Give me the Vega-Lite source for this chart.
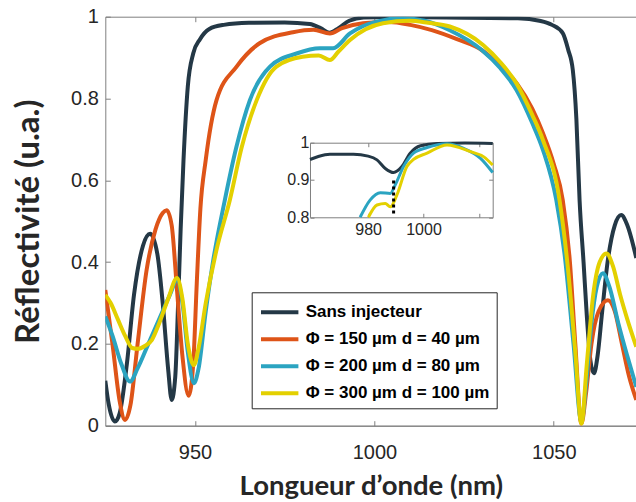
{
  "$schema": "https://vega.github.io/schema/vega-lite/v6.json",
  "width": 531,
  "height": 409,
  "autosize": {"type": "none"},
  "padding": {"left": 105.3, "top": 16.7, "right": 0, "bottom": 76},
  "background": "white",
  "config": {
    "view": {"stroke": null},
    "font": "Liberation Sans",
    "axis": {
      "grid": false,
      "domainColor": "#808080",
      "tickColor": "#808080",
      "tickSize": -5,
      "labelFont": "Liberation Sans",
      "labelColor": "#262626",
      "titleColor": "#262626",
      "labelOverlap": false
    }
  },
  "datasets": {
    "main": [
      {"serie": "Sans injecteur", "nm": 925, "R": 0.11},
      {"serie": "Sans injecteur", "nm": 926, "R": 0.05},
      {"serie": "Sans injecteur", "nm": 927.7, "R": 0.01},
      {"serie": "Sans injecteur", "nm": 929, "R": 0.03},
      {"serie": "Sans injecteur", "nm": 931, "R": 0.15},
      {"serie": "Sans injecteur", "nm": 933, "R": 0.32},
      {"serie": "Sans injecteur", "nm": 935.5, "R": 0.44},
      {"serie": "Sans injecteur", "nm": 937.5, "R": 0.469},
      {"serie": "Sans injecteur", "nm": 939.5, "R": 0.42},
      {"serie": "Sans injecteur", "nm": 941, "R": 0.3},
      {"serie": "Sans injecteur", "nm": 942.5, "R": 0.14},
      {"serie": "Sans injecteur", "nm": 943.5, "R": 0.063},
      {"serie": "Sans injecteur", "nm": 944.5, "R": 0.12},
      {"serie": "Sans injecteur", "nm": 945.3, "R": 0.3},
      {"serie": "Sans injecteur", "nm": 946, "R": 0.48},
      {"serie": "Sans injecteur", "nm": 946.8, "R": 0.65},
      {"serie": "Sans injecteur", "nm": 948, "R": 0.83},
      {"serie": "Sans injecteur", "nm": 949.5, "R": 0.91},
      {"serie": "Sans injecteur", "nm": 951.4, "R": 0.945},
      {"serie": "Sans injecteur", "nm": 954, "R": 0.97},
      {"serie": "Sans injecteur", "nm": 958, "R": 0.98},
      {"serie": "Sans injecteur", "nm": 965, "R": 0.985},
      {"serie": "Sans injecteur", "nm": 975, "R": 0.986},
      {"serie": "Sans injecteur", "nm": 982, "R": 0.982},
      {"serie": "Sans injecteur", "nm": 985, "R": 0.972},
      {"serie": "Sans injecteur", "nm": 987.5, "R": 0.961},
      {"serie": "Sans injecteur", "nm": 990, "R": 0.972},
      {"serie": "Sans injecteur", "nm": 993, "R": 0.99},
      {"serie": "Sans injecteur", "nm": 997, "R": 0.998},
      {"serie": "Sans injecteur", "nm": 1005, "R": 0.999},
      {"serie": "Sans injecteur", "nm": 1020, "R": 0.998},
      {"serie": "Sans injecteur", "nm": 1040, "R": 0.996},
      {"serie": "Sans injecteur", "nm": 1046, "R": 0.99},
      {"serie": "Sans injecteur", "nm": 1049.5, "R": 0.98},
      {"serie": "Sans injecteur", "nm": 1052.5, "R": 0.96},
      {"serie": "Sans injecteur", "nm": 1054, "R": 0.92},
      {"serie": "Sans injecteur", "nm": 1055.3, "R": 0.87},
      {"serie": "Sans injecteur", "nm": 1056.3, "R": 0.75},
      {"serie": "Sans injecteur", "nm": 1057.2, "R": 0.55},
      {"serie": "Sans injecteur", "nm": 1058.3, "R": 0.4},
      {"serie": "Sans injecteur", "nm": 1059.2, "R": 0.27},
      {"serie": "Sans injecteur", "nm": 1060.2, "R": 0.16},
      {"serie": "Sans injecteur", "nm": 1061.2, "R": 0.128},
      {"serie": "Sans injecteur", "nm": 1062.2, "R": 0.17},
      {"serie": "Sans injecteur", "nm": 1063.5, "R": 0.28},
      {"serie": "Sans injecteur", "nm": 1065, "R": 0.4},
      {"serie": "Sans injecteur", "nm": 1067, "R": 0.49},
      {"serie": "Sans injecteur", "nm": 1068.8, "R": 0.515},
      {"serie": "Sans injecteur", "nm": 1070.5, "R": 0.49},
      {"serie": "Sans injecteur", "nm": 1073, "R": 0.41},

      {"serie": "Φ = 150 µm d = 40 µm", "nm": 925, "R": 0.332},
      {"serie": "Φ = 150 µm d = 40 µm", "nm": 927, "R": 0.2},
      {"serie": "Φ = 150 µm d = 40 µm", "nm": 929, "R": 0.06},
      {"serie": "Φ = 150 µm d = 40 µm", "nm": 930.5, "R": 0.014},
      {"serie": "Φ = 150 µm d = 40 µm", "nm": 932, "R": 0.05},
      {"serie": "Φ = 150 µm d = 40 µm", "nm": 934, "R": 0.2},
      {"serie": "Φ = 150 µm d = 40 µm", "nm": 936.5, "R": 0.38},
      {"serie": "Φ = 150 µm d = 40 µm", "nm": 939, "R": 0.48},
      {"serie": "Φ = 150 µm d = 40 µm", "nm": 941, "R": 0.52},
      {"serie": "Φ = 150 µm d = 40 µm", "nm": 942.1, "R": 0.527},
      {"serie": "Φ = 150 µm d = 40 µm", "nm": 943.5, "R": 0.49},
      {"serie": "Φ = 150 µm d = 40 µm", "nm": 945, "R": 0.33},
      {"serie": "Φ = 150 µm d = 40 µm", "nm": 946.5, "R": 0.17},
      {"serie": "Φ = 150 µm d = 40 µm", "nm": 948.2, "R": 0.073},
      {"serie": "Φ = 150 µm d = 40 µm", "nm": 949.5, "R": 0.15},
      {"serie": "Φ = 150 µm d = 40 µm", "nm": 950.5, "R": 0.35},
      {"serie": "Φ = 150 µm d = 40 µm", "nm": 951.5, "R": 0.53},
      {"serie": "Φ = 150 µm d = 40 µm", "nm": 953, "R": 0.65},
      {"serie": "Φ = 150 µm d = 40 µm", "nm": 956, "R": 0.796},
      {"serie": "Φ = 150 µm d = 40 µm", "nm": 961.6, "R": 0.878},
      {"serie": "Φ = 150 µm d = 40 µm", "nm": 968, "R": 0.935},
      {"serie": "Φ = 150 µm d = 40 µm", "nm": 977.3, "R": 0.962},
      {"serie": "Φ = 150 µm d = 40 µm", "nm": 983, "R": 0.968},
      {"serie": "Φ = 150 µm d = 40 µm", "nm": 987.6, "R": 0.959},
      {"serie": "Φ = 150 µm d = 40 µm", "nm": 991, "R": 0.972},
      {"serie": "Φ = 150 µm d = 40 µm", "nm": 996.8, "R": 0.984},
      {"serie": "Φ = 150 µm d = 40 µm", "nm": 1004, "R": 0.987},
      {"serie": "Φ = 150 µm d = 40 µm", "nm": 1010, "R": 0.98},
      {"serie": "Φ = 150 µm d = 40 µm", "nm": 1016, "R": 0.967},
      {"serie": "Φ = 150 µm d = 40 µm", "nm": 1023, "R": 0.945},
      {"serie": "Φ = 150 µm d = 40 µm", "nm": 1030, "R": 0.918},
      {"serie": "Φ = 150 µm d = 40 µm", "nm": 1035, "R": 0.88},
      {"serie": "Φ = 150 µm d = 40 µm", "nm": 1039.7, "R": 0.837},
      {"serie": "Φ = 150 µm d = 40 µm", "nm": 1044, "R": 0.775},
      {"serie": "Φ = 150 µm d = 40 µm", "nm": 1047, "R": 0.715},
      {"serie": "Φ = 150 µm d = 40 µm", "nm": 1050, "R": 0.64},
      {"serie": "Φ = 150 µm d = 40 µm", "nm": 1052.5, "R": 0.552},
      {"serie": "Φ = 150 µm d = 40 µm", "nm": 1054.5, "R": 0.4},
      {"serie": "Φ = 150 µm d = 40 µm", "nm": 1056, "R": 0.2},
      {"serie": "Φ = 150 µm d = 40 µm", "nm": 1057.7, "R": 0.005},
      {"serie": "Φ = 150 µm d = 40 µm", "nm": 1059, "R": 0.08},
      {"serie": "Φ = 150 µm d = 40 µm", "nm": 1060.5, "R": 0.2},
      {"serie": "Φ = 150 µm d = 40 µm", "nm": 1062.5, "R": 0.28},
      {"serie": "Φ = 150 µm d = 40 µm", "nm": 1065.1, "R": 0.307},
      {"serie": "Φ = 150 µm d = 40 µm", "nm": 1067, "R": 0.28},
      {"serie": "Φ = 150 µm d = 40 µm", "nm": 1069, "R": 0.2},
      {"serie": "Φ = 150 µm d = 40 µm", "nm": 1071, "R": 0.12},
      {"serie": "Φ = 150 µm d = 40 µm", "nm": 1073, "R": 0.063},

      {"serie": "Φ = 200 µm d = 80 µm", "nm": 925, "R": 0.267},
      {"serie": "Φ = 200 µm d = 80 µm", "nm": 927, "R": 0.22},
      {"serie": "Φ = 200 µm d = 80 µm", "nm": 929.5, "R": 0.15},
      {"serie": "Φ = 200 µm d = 80 µm", "nm": 931.9, "R": 0.108},
      {"serie": "Φ = 200 µm d = 80 µm", "nm": 934, "R": 0.14},
      {"serie": "Φ = 200 µm d = 80 µm", "nm": 937, "R": 0.2},
      {"serie": "Φ = 200 µm d = 80 µm", "nm": 940, "R": 0.26},
      {"serie": "Φ = 200 µm d = 80 µm", "nm": 943, "R": 0.32},
      {"serie": "Φ = 200 µm d = 80 µm", "nm": 945, "R": 0.356},
      {"serie": "Φ = 200 µm d = 80 µm", "nm": 946.5, "R": 0.3},
      {"serie": "Φ = 200 µm d = 80 µm", "nm": 948, "R": 0.18},
      {"serie": "Φ = 200 µm d = 80 µm", "nm": 949.7, "R": 0.104},
      {"serie": "Φ = 200 µm d = 80 µm", "nm": 951, "R": 0.14},
      {"serie": "Φ = 200 µm d = 80 µm", "nm": 953, "R": 0.28},
      {"serie": "Φ = 200 µm d = 80 µm", "nm": 955, "R": 0.4},
      {"serie": "Φ = 200 µm d = 80 µm", "nm": 958.3, "R": 0.551},
      {"serie": "Φ = 200 µm d = 80 µm", "nm": 961.5, "R": 0.68},
      {"serie": "Φ = 200 µm d = 80 µm", "nm": 965.3, "R": 0.796},
      {"serie": "Φ = 200 µm d = 80 µm", "nm": 970.9, "R": 0.878},
      {"serie": "Φ = 200 µm d = 80 µm", "nm": 978.3, "R": 0.91},
      {"serie": "Φ = 200 µm d = 80 µm", "nm": 984.8, "R": 0.923},
      {"serie": "Φ = 200 µm d = 80 µm", "nm": 988.5, "R": 0.923},
      {"serie": "Φ = 200 µm d = 80 µm", "nm": 993.2, "R": 0.959},
      {"serie": "Φ = 200 µm d = 80 µm", "nm": 1000.6, "R": 0.988},
      {"serie": "Φ = 200 µm d = 80 µm", "nm": 1008, "R": 0.996},
      {"serie": "Φ = 200 µm d = 80 µm", "nm": 1014, "R": 0.99},
      {"serie": "Φ = 200 µm d = 80 µm", "nm": 1021, "R": 0.967},
      {"serie": "Φ = 200 µm d = 80 µm", "nm": 1030, "R": 0.918},
      {"serie": "Φ = 200 µm d = 80 µm", "nm": 1035, "R": 0.875},
      {"serie": "Φ = 200 µm d = 80 µm", "nm": 1039.6, "R": 0.821},
      {"serie": "Φ = 200 µm d = 80 µm", "nm": 1044, "R": 0.74},
      {"serie": "Φ = 200 µm d = 80 µm", "nm": 1047, "R": 0.674},
      {"serie": "Φ = 200 µm d = 80 µm", "nm": 1050.7, "R": 0.552},
      {"serie": "Φ = 200 µm d = 80 µm", "nm": 1053, "R": 0.42},
      {"serie": "Φ = 200 µm d = 80 µm", "nm": 1055.5, "R": 0.2},
      {"serie": "Φ = 200 µm d = 80 µm", "nm": 1057.7, "R": 0.01},
      {"serie": "Φ = 200 µm d = 80 µm", "nm": 1059, "R": 0.1},
      {"serie": "Φ = 200 µm d = 80 µm", "nm": 1060.5, "R": 0.25},
      {"serie": "Φ = 200 µm d = 80 µm", "nm": 1062, "R": 0.34},
      {"serie": "Φ = 200 µm d = 80 µm", "nm": 1063.7, "R": 0.373},
      {"serie": "Φ = 200 µm d = 80 µm", "nm": 1065.5, "R": 0.34},
      {"serie": "Φ = 200 µm d = 80 µm", "nm": 1068, "R": 0.25},
      {"serie": "Φ = 200 µm d = 80 µm", "nm": 1070.5, "R": 0.17},
      {"serie": "Φ = 200 µm d = 80 µm", "nm": 1073, "R": 0.095},

      {"serie": "Φ = 300 µm d = 100 µm", "nm": 925, "R": 0.32},
      {"serie": "Φ = 300 µm d = 100 µm", "nm": 926.5, "R": 0.3},
      {"serie": "Φ = 300 µm d = 100 µm", "nm": 928.5, "R": 0.26},
      {"serie": "Φ = 300 µm d = 100 µm", "nm": 930.5, "R": 0.22},
      {"serie": "Φ = 300 µm d = 100 µm", "nm": 932.5, "R": 0.19},
      {"serie": "Φ = 300 µm d = 100 µm", "nm": 934, "R": 0.188},
      {"serie": "Φ = 300 µm d = 100 µm", "nm": 936, "R": 0.195},
      {"serie": "Φ = 300 µm d = 100 µm", "nm": 938, "R": 0.21},
      {"serie": "Φ = 300 µm d = 100 µm", "nm": 940, "R": 0.25},
      {"serie": "Φ = 300 µm d = 100 µm", "nm": 942.5, "R": 0.31},
      {"serie": "Φ = 300 µm d = 100 µm", "nm": 945, "R": 0.361},
      {"serie": "Φ = 300 µm d = 100 µm", "nm": 946.5, "R": 0.31},
      {"serie": "Φ = 300 µm d = 100 µm", "nm": 948, "R": 0.2},
      {"serie": "Φ = 300 µm d = 100 µm", "nm": 949.7, "R": 0.148},
      {"serie": "Φ = 300 µm d = 100 µm", "nm": 951, "R": 0.19},
      {"serie": "Φ = 300 µm d = 100 µm", "nm": 953, "R": 0.3},
      {"serie": "Φ = 300 µm d = 100 µm", "nm": 956, "R": 0.43},
      {"serie": "Φ = 300 µm d = 100 µm", "nm": 959.7, "R": 0.551},
      {"serie": "Φ = 300 µm d = 100 µm", "nm": 963, "R": 0.68},
      {"serie": "Φ = 300 µm d = 100 µm", "nm": 967.2, "R": 0.796},
      {"serie": "Φ = 300 µm d = 100 µm", "nm": 972.7, "R": 0.878},
      {"serie": "Φ = 300 µm d = 100 µm", "nm": 980, "R": 0.902},
      {"serie": "Φ = 300 µm d = 100 µm", "nm": 984.5, "R": 0.905},
      {"serie": "Φ = 300 µm d = 100 µm", "nm": 987.6, "R": 0.894},
      {"serie": "Φ = 300 µm d = 100 µm", "nm": 990, "R": 0.915},
      {"serie": "Φ = 300 µm d = 100 µm", "nm": 993.2, "R": 0.943},
      {"serie": "Φ = 300 µm d = 100 µm", "nm": 1002.4, "R": 0.984},
      {"serie": "Φ = 300 µm d = 100 µm", "nm": 1009.9, "R": 0.99},
      {"serie": "Φ = 300 µm d = 100 µm", "nm": 1015, "R": 0.985},
      {"serie": "Φ = 300 µm d = 100 µm", "nm": 1021, "R": 0.976},
      {"serie": "Φ = 300 µm d = 100 µm", "nm": 1030.3, "R": 0.931},
      {"serie": "Φ = 300 µm d = 100 µm", "nm": 1035, "R": 0.89},
      {"serie": "Φ = 300 µm d = 100 µm", "nm": 1039.6, "R": 0.837},
      {"serie": "Φ = 300 µm d = 100 µm", "nm": 1044, "R": 0.76},
      {"serie": "Φ = 300 µm d = 100 µm", "nm": 1047, "R": 0.698},
      {"serie": "Φ = 300 µm d = 100 µm", "nm": 1051.6, "R": 0.552},
      {"serie": "Φ = 300 µm d = 100 µm", "nm": 1054, "R": 0.38},
      {"serie": "Φ = 300 µm d = 100 µm", "nm": 1056, "R": 0.18},
      {"serie": "Φ = 300 µm d = 100 µm", "nm": 1057.7, "R": 0.005},
      {"serie": "Φ = 300 µm d = 100 µm", "nm": 1059.2, "R": 0.15},
      {"serie": "Φ = 300 µm d = 100 µm", "nm": 1061, "R": 0.32},
      {"serie": "Φ = 300 µm d = 100 µm", "nm": 1062.8, "R": 0.4},
      {"serie": "Φ = 300 µm d = 100 µm", "nm": 1064.7, "R": 0.421},
      {"serie": "Φ = 300 µm d = 100 µm", "nm": 1066.5, "R": 0.39},
      {"serie": "Φ = 300 µm d = 100 µm", "nm": 1068.5, "R": 0.32},
      {"serie": "Φ = 300 µm d = 100 µm", "nm": 1070.5, "R": 0.26},
      {"serie": "Φ = 300 µm d = 100 µm", "nm": 1073, "R": 0.193}
    ],
    "inset": [
      {"serie": "Sans injecteur", "nm": 959, "R": 0.955},
      {"serie": "Sans injecteur", "nm": 962, "R": 0.963},
      {"serie": "Sans injecteur", "nm": 966.2, "R": 0.969},
      {"serie": "Sans injecteur", "nm": 974.7, "R": 0.969},
      {"serie": "Sans injecteur", "nm": 980, "R": 0.964},
      {"serie": "Sans injecteur", "nm": 983.2, "R": 0.954},
      {"serie": "Sans injecteur", "nm": 986.2, "R": 0.931},
      {"serie": "Sans injecteur", "nm": 989.2, "R": 0.92},
      {"serie": "Sans injecteur", "nm": 992.2, "R": 0.936},
      {"serie": "Sans injecteur", "nm": 995.2, "R": 0.972},
      {"serie": "Sans injecteur", "nm": 998.9, "R": 0.992},
      {"serie": "Sans injecteur", "nm": 1004.9, "R": 0.998},
      {"serie": "Sans injecteur", "nm": 1015, "R": 0.999},
      {"serie": "Sans injecteur", "nm": 1025, "R": 0.998},
      {"serie": "Φ = 200 µm d = 80 µm", "nm": 977.1, "R": 0.8},
      {"serie": "Φ = 200 µm d = 80 µm", "nm": 980.7, "R": 0.846},
      {"serie": "Φ = 200 µm d = 80 µm", "nm": 984.4, "R": 0.866},
      {"serie": "Φ = 200 µm d = 80 µm", "nm": 988, "R": 0.864},
      {"serie": "Φ = 200 µm d = 80 µm", "nm": 989.8, "R": 0.887},
      {"serie": "Φ = 200 µm d = 80 µm", "nm": 992.8, "R": 0.936},
      {"serie": "Φ = 200 µm d = 80 µm", "nm": 996.4, "R": 0.972},
      {"serie": "Φ = 200 µm d = 80 µm", "nm": 1001.3, "R": 0.987},
      {"serie": "Φ = 200 µm d = 80 µm", "nm": 1008.5, "R": 0.997},
      {"serie": "Φ = 200 µm d = 80 µm", "nm": 1014.5, "R": 0.985},
      {"serie": "Φ = 200 µm d = 80 µm", "nm": 1020.6, "R": 0.958},
      {"serie": "Φ = 200 µm d = 80 µm", "nm": 1025, "R": 0.92},
      {"serie": "Φ = 300 µm d = 100 µm", "nm": 980.1, "R": 0.8},
      {"serie": "Φ = 300 µm d = 100 µm", "nm": 983.2, "R": 0.833},
      {"serie": "Φ = 300 µm d = 100 µm", "nm": 986.2, "R": 0.837},
      {"serie": "Φ = 300 µm d = 100 µm", "nm": 988, "R": 0.828},
      {"serie": "Φ = 300 µm d = 100 µm", "nm": 990.4, "R": 0.86},
      {"serie": "Φ = 300 µm d = 100 µm", "nm": 994, "R": 0.936},
      {"serie": "Φ = 300 µm d = 100 µm", "nm": 996.4, "R": 0.955},
      {"serie": "Φ = 300 µm d = 100 µm", "nm": 1001.3, "R": 0.972},
      {"serie": "Φ = 300 µm d = 100 µm", "nm": 1008.5, "R": 0.994},
      {"serie": "Φ = 300 µm d = 100 µm", "nm": 1017, "R": 0.976},
      {"serie": "Φ = 300 µm d = 100 µm", "nm": 1021.8, "R": 0.962},
      {"serie": "Φ = 300 µm d = 100 µm", "nm": 1025, "R": 0.94}
    ],
    "marker": [{"nm": 989.2, "lo": 0.81, "hi": 0.905}]
  },
  "layer": [
    {
      "layer": [
        {
          "data": {"name": "main"},
          "mark": {"type": "line", "strokeWidth": 4, "interpolate": "monotone", "clip": true},
          "encoding": {
            "x": {
              "field": "nm", "type": "quantitative",
              "scale": {"domain": [925, 1073], "nice": false, "zero": false},
              "axis": {
                "orient": "bottom", "values": [950, 1000, 1050],
                "labelExpr": "datum.value + ''", "ticks": false,
                "labelFontSize": 20, "labelPadding": 17,
                "title": "Longueur d’onde (nm)", "titleFont": "Lato", "titleFontSize": 27.5,
                "titleFontWeight": "bold", "titlePadding": 10
              }
            },
            "y": {
              "field": "R", "type": "quantitative",
              "scale": {"domain": [0, 1], "nice": false},
              "axis": {
                "orient": "left", "values": [0, 0.2, 0.4, 0.6, 0.8, 1],
                "labelExpr": "datum.value + ''",
                "labelFontSize": 20, "labelPadding": 12,
                "title": "Réflectivité (u.a.)", "titleFont": "Lato", "titleFontSize": 33,
                "titleFontWeight": "bold", "titlePadding": 25
              }
            },
            "color": {
              "field": "serie", "type": "nominal",
              "scale": {
                "domain": ["Sans injecteur", "Φ = 150 µm d = 40 µm", "Φ = 200 µm d = 80 µm", "Φ = 300 µm d = 100 µm"],
                "range": ["#243846", "#de5418", "#2ba4c1", "#e3d000"]
              },
              "legend": {
                "orient": "none", "legendX": 146.4, "legendY": 275.6,
                "title": null, "padding": 7,
                "strokeColor": "#262626", "fillColor": "white",
                "symbolType": "M-1.7,0H1.7", "symbolStrokeWidth": 4, "symbolSize": 484,
                "symbolOffset": 8,
                "labelFont": "Liberation Sans", "labelFontWeight": "bold", "labelFontSize": 17,
                "labelColor": "black", "labelOffset": 13, "labelLimit": 400, "rowPadding": 6
              }
            }
          }
        },
        {
          "data": {"name": "main"},
          "mark": {"type": "point", "opacity": 0},
          "encoding": {
            "x": {"field": "nm", "type": "quantitative", "axis": {"orient": "top", "values": [950, 1000, 1050], "labels": false, "title": null}},
            "y": {"field": "R", "type": "quantitative", "axis": null}
          }
        },
        {
          "data": {"name": "main"},
          "mark": {"type": "point", "opacity": 0},
          "encoding": {
            "x": {"field": "nm", "type": "quantitative", "axis": {"orient": "bottom", "values": [950, 1000, 1050], "labels": false, "title": null}},
            "y": {"field": "R", "type": "quantitative", "axis": null}
          }
        }
      ],
      "resolve": {"axis": {"x": "independent", "y": "independent"}}
    },
    {
      "layer": [
        {
          "data": {"name": "inset"},
          "mark": {"type": "line", "strokeWidth": 3, "interpolate": "monotone"},
          "encoding": {
            "x": {
              "field": "nm", "type": "quantitative",
              "scale": {"domain": [959, 1025], "range": [204.7, 387.4], "nice": false, "zero": false},
              "axis": {
                "orient": "bottom", "offset": -208.4, "values": [980, 1000, 1020],
                "labelExpr": "datum.value == 1020 ? '' : datum.value + ''",
                "labelFontSize": 16, "labelPadding": 8, "tickSize": -4, "title": null
              }
            },
            "y": {
              "field": "R", "type": "quantitative",
              "scale": {"domain": [0.8, 1], "range": [200.6, 126], "nice": false, "zero": false},
              "axis": {
                "orient": "left", "offset": -204.7, "values": [0.8, 0.9, 1],
                "labelExpr": "datum.value + ''",
                "labelFontSize": 16, "labelPadding": 5, "tickSize": -4, "title": null
              }
            },
            "color": {
              "field": "serie", "type": "nominal",
              "scale": {
                "domain": ["Sans injecteur", "Φ = 150 µm d = 40 µm", "Φ = 200 µm d = 80 µm", "Φ = 300 µm d = 100 µm"],
                "range": ["#243846", "#de5418", "#2ba4c1", "#e3d000"]
              },
              "legend": null
            }
          }
        },
        {
          "data": {"name": "marker"},
          "mark": {"type": "rule", "color": "black", "strokeWidth": 3, "strokeDash": [3, 3]},
          "encoding": {
            "x": {"field": "nm", "type": "quantitative", "axis": null},
            "y": {"field": "lo", "type": "quantitative", "axis": null},
            "y2": {"field": "hi"}
          }
        },
        {
          "data": {"name": "inset"},
          "mark": {"type": "point", "opacity": 0},
          "encoding": {
            "x": {"field": "nm", "type": "quantitative", "axis": {"orient": "top", "offset": -126, "values": [980, 1000, 1020], "labels": false, "tickSize": -4, "title": null}},
            "y": {"field": "R", "type": "quantitative", "axis": {"orient": "right", "offset": -143.6, "values": [0.8, 0.9, 1], "labels": false, "tickSize": -4, "title": null}}
          }
        }
      ],
      "resolve": {"axis": {"x": "independent", "y": "independent"}}
    }
  ],
  "resolve": {"scale": {"x": "independent", "y": "independent"}}
}
